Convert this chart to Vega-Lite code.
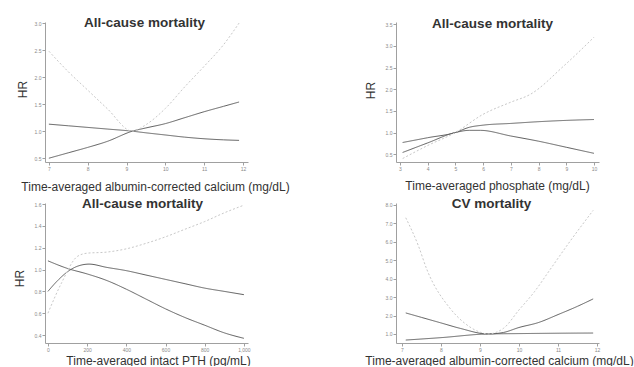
{
  "$schema": "https://vega.github.io/schema/vega-lite/v6.json",
  "background": "white",
  "padding": {"left": 13, "top": 15, "right": 0, "bottom": 0},
  "config": {
    "view": {"stroke": null},
    "font": "Liberation Sans",
    "axis": {
      "grid": false,
      "domainColor": "#a0a0a0",
      "tickColor": "#a0a0a0",
      "labelColor": "#8a8a8a",
      "labelFontSize": 5,
      "labelFont": "Liberation Sans",
      "tickSize": 3,
      "labelPadding": 1,
      "titleFont": "Liberation Sans",
      "titleFontWeight": "normal",
      "titleFontSize": 12,
      "titleColor": "#333333"
    },
    "title": {"font": "Liberation Sans", "fontSize": 13.5, "fontWeight": "bold", "color": "#333333"},
    "line": {"strokeWidth": 1, "interpolate": "monotone"}
  },
  "datasets": {
    "p1": [
      {"s": "A", "x": 7.0, "y": 1.13}, {"s": "A", "x": 7.5, "y": 1.10}, {"s": "A", "x": 8.0, "y": 1.07}, {"s": "A", "x": 8.5, "y": 1.04}, {"s": "A", "x": 9.15, "y": 1.0}, {"s": "A", "x": 9.5, "y": 0.97}, {"s": "A", "x": 10.0, "y": 0.93}, {"s": "A", "x": 10.5, "y": 0.89}, {"s": "A", "x": 11.0, "y": 0.86}, {"s": "A", "x": 11.5, "y": 0.84}, {"s": "A", "x": 11.9, "y": 0.83},
      {"s": "B", "x": 7.0, "y": 0.5}, {"s": "B", "x": 7.5, "y": 0.6}, {"s": "B", "x": 8.0, "y": 0.7}, {"s": "B", "x": 8.5, "y": 0.81}, {"s": "B", "x": 9.15, "y": 1.0}, {"s": "B", "x": 9.5, "y": 1.06}, {"s": "B", "x": 10.0, "y": 1.14}, {"s": "B", "x": 10.5, "y": 1.25}, {"s": "B", "x": 11.0, "y": 1.36}, {"s": "B", "x": 11.5, "y": 1.46}, {"s": "B", "x": 11.9, "y": 1.54},
      {"s": "C", "x": 7.0, "y": 2.48}, {"s": "C", "x": 7.5, "y": 2.1}, {"s": "C", "x": 8.0, "y": 1.76}, {"s": "C", "x": 8.5, "y": 1.42}, {"s": "C", "x": 9.15, "y": 1.0}, {"s": "C", "x": 9.5, "y": 1.12}, {"s": "C", "x": 10.0, "y": 1.42}, {"s": "C", "x": 10.5, "y": 1.82}, {"s": "C", "x": 11.0, "y": 2.2}, {"s": "C", "x": 11.5, "y": 2.6}, {"s": "C", "x": 11.9, "y": 3.0}
    ],
    "p2": [
      {"s": "A", "x": 3.1, "y": 0.77}, {"s": "A", "x": 4.0, "y": 0.88}, {"s": "A", "x": 5.0, "y": 1.0}, {"s": "A", "x": 5.5, "y": 1.12}, {"s": "A", "x": 6.0, "y": 1.17}, {"s": "A", "x": 7.0, "y": 1.21}, {"s": "A", "x": 8.0, "y": 1.25}, {"s": "A", "x": 9.0, "y": 1.28}, {"s": "A", "x": 10.0, "y": 1.30},
      {"s": "B", "x": 3.1, "y": 0.54}, {"s": "B", "x": 4.0, "y": 0.76}, {"s": "B", "x": 5.0, "y": 1.0}, {"s": "B", "x": 5.5, "y": 1.05}, {"s": "B", "x": 5.9, "y": 1.05}, {"s": "B", "x": 7.0, "y": 0.92}, {"s": "B", "x": 8.0, "y": 0.80}, {"s": "B", "x": 9.0, "y": 0.66}, {"s": "B", "x": 10.0, "y": 0.52},
      {"s": "C", "x": 3.1, "y": 0.40}, {"s": "C", "x": 4.0, "y": 0.70}, {"s": "C", "x": 5.0, "y": 1.0}, {"s": "C", "x": 6.0, "y": 1.42}, {"s": "C", "x": 7.0, "y": 1.70}, {"s": "C", "x": 7.7, "y": 1.88}, {"s": "C", "x": 8.9, "y": 2.53}, {"s": "C", "x": 10.0, "y": 3.2}
    ],
    "p3": [
      {"s": "A", "x": 0, "y": 1.08}, {"s": "A", "x": 100, "y": 1.01}, {"s": "A", "x": 200, "y": 0.96}, {"s": "A", "x": 300, "y": 0.90}, {"s": "A", "x": 400, "y": 0.82}, {"s": "A", "x": 500, "y": 0.73}, {"s": "A", "x": 600, "y": 0.64}, {"s": "A", "x": 700, "y": 0.56}, {"s": "A", "x": 800, "y": 0.49}, {"s": "A", "x": 900, "y": 0.42}, {"s": "A", "x": 1000, "y": 0.37},
      {"s": "B", "x": 0, "y": 0.80}, {"s": "B", "x": 50, "y": 0.90}, {"s": "B", "x": 100, "y": 0.98}, {"s": "B", "x": 150, "y": 1.03}, {"s": "B", "x": 210, "y": 1.05}, {"s": "B", "x": 300, "y": 1.02}, {"s": "B", "x": 400, "y": 0.99}, {"s": "B", "x": 500, "y": 0.95}, {"s": "B", "x": 600, "y": 0.91}, {"s": "B", "x": 700, "y": 0.87}, {"s": "B", "x": 800, "y": 0.83}, {"s": "B", "x": 900, "y": 0.80}, {"s": "B", "x": 1000, "y": 0.77},
      {"s": "C", "x": 0, "y": 0.60}, {"s": "C", "x": 70, "y": 0.88}, {"s": "C", "x": 150, "y": 1.12}, {"s": "C", "x": 200, "y": 1.15}, {"s": "C", "x": 300, "y": 1.16}, {"s": "C", "x": 400, "y": 1.19}, {"s": "C", "x": 500, "y": 1.24}, {"s": "C", "x": 600, "y": 1.30}, {"s": "C", "x": 700, "y": 1.37}, {"s": "C", "x": 800, "y": 1.44}, {"s": "C", "x": 900, "y": 1.52}, {"s": "C", "x": 1000, "y": 1.59}
    ],
    "p4": [
      {"s": "A", "x": 7.1, "y": 0.67}, {"s": "A", "x": 8.0, "y": 0.80}, {"s": "A", "x": 9.2, "y": 1.0}, {"s": "A", "x": 10.0, "y": 1.02}, {"s": "A", "x": 11.0, "y": 1.04}, {"s": "A", "x": 11.9, "y": 1.05},
      {"s": "B", "x": 7.1, "y": 2.14}, {"s": "B", "x": 7.5, "y": 1.9}, {"s": "B", "x": 8.0, "y": 1.6}, {"s": "B", "x": 8.5, "y": 1.3}, {"s": "B", "x": 9.2, "y": 1.0}, {"s": "B", "x": 9.6, "y": 1.08}, {"s": "B", "x": 10.0, "y": 1.35}, {"s": "B", "x": 10.5, "y": 1.62}, {"s": "B", "x": 11.0, "y": 2.05}, {"s": "B", "x": 11.5, "y": 2.5}, {"s": "B", "x": 11.9, "y": 2.9},
      {"s": "C", "x": 7.1, "y": 7.3}, {"s": "C", "x": 7.42, "y": 5.8}, {"s": "C", "x": 7.64, "y": 4.5}, {"s": "C", "x": 8.23, "y": 2.4}, {"s": "C", "x": 8.6, "y": 1.6}, {"s": "C", "x": 9.0, "y": 1.1}, {"s": "C", "x": 9.2, "y": 1.0}, {"s": "C", "x": 9.6, "y": 1.3}, {"s": "C", "x": 10.0, "y": 2.3}, {"s": "C", "x": 10.4, "y": 3.3}, {"s": "C", "x": 10.8, "y": 4.5}, {"s": "C", "x": 11.3, "y": 6.0}, {"s": "C", "x": 11.9, "y": 7.7}
    ]
  },
  "bounds": "flush",
  "columns": 2,
  "spacing": {"row": 41, "column": 148},
  "concat": [
    {
      "width": 203, "height": 140,
      "title": {"text": "All-cause mortality", "anchor": "middle", "offset": -8, "dx": -2},
      "data": {"name": "p1"},
      "mark": {"type": "line"},
      "encoding": {
        "x": {"field": "x", "type": "quantitative", "scale": {"domain": [6.9, 12.13], "nice": false, "zero": false},
              "axis": {"values": [7, 8, 9, 10, 11, 12], "title": "Time-averaged  albumin-corrected calcium (mg/dL)", "titleX": 110, "titleY": 24, "titleBaseline": "middle", "titleAnchor": null}},
        "y": {"field": "y", "type": "quantitative", "scale": {"domain": [0.43, 3.02], "nice": false, "zero": false},
              "axis": {"values": [0.5, 1.0, 1.5, 2.0, 2.5, 3.0], "format": ".1f", "title": "HR", "titleFontSize": 12, "titleX": -23, "titleY": 67, "titleAngle": -90, "titleBaseline": "middle", "titleAlign": "center"}},
        "detail": {"field": "s"},
        "color": {"field": "s", "type": "nominal", "legend": null, "scale": {"domain": ["A", "B", "C"], "range": ["#5e5e5e", "#5e5e5e", "#c8c8c8"]}},
        "strokeDash": {"field": "s", "type": "nominal", "legend": null, "scale": {"domain": ["A", "B", "C"], "range": [[1, 0], [1, 0], [2, 2]]}}
      }
    },
    {
      "width": 203, "height": 140,
      "title": {"text": "All-cause mortality", "anchor": "middle", "offset": -8, "dx": -5},
      "data": {"name": "p2"},
      "mark": {"type": "line"},
      "encoding": {
        "x": {"field": "x", "type": "quantitative", "scale": {"domain": [2.86, 10.18], "nice": false, "zero": false},
              "axis": {"values": [3, 4, 5, 6, 7, 8, 9, 10], "title": "Time-averaged  phosphate (mg/dL)", "titleX": 101, "titleY": 23, "titleBaseline": "middle", "titleAnchor": null}},
        "y": {"field": "y", "type": "quantitative", "scale": {"domain": [0.32, 3.55], "nice": false, "zero": false},
              "axis": {"values": [0.5, 1.0, 1.5, 2.0, 2.5, 3.0, 3.5], "format": ".1f", "title": "HR", "titleFontSize": 12, "titleX": -26, "titleY": 68, "titleAngle": -90, "titleBaseline": "middle", "titleAlign": "center"}},
        "detail": {"field": "s"},
        "color": {"field": "s", "type": "nominal", "legend": null, "scale": {"domain": ["A", "B", "C"], "range": ["#8a8a8a", "#5e5e5e", "#bdbdbd"]}},
        "strokeDash": {"field": "s", "type": "nominal", "legend": null, "scale": {"domain": ["A", "B", "C"], "range": [[1, 0], [1, 0], [3, 2]]}}
      }
    },
    {
      "width": 203, "height": 140,
      "title": {"text": "All-cause mortality", "anchor": "middle", "offset": -8, "dx": -4},
      "data": {"name": "p3"},
      "mark": {"type": "line"},
      "encoding": {
        "x": {"field": "x", "type": "quantitative", "scale": {"domain": [-15, 1021], "nice": false, "zero": false},
              "axis": {"values": [0, 200, 400, 600, 800, 1000], "title": "Time-averaged  intact PTH (pg/mL)", "titleX": 113, "titleY": 17, "titleBaseline": "middle", "titleAnchor": null}},
        "y": {"field": "y", "type": "quantitative", "scale": {"domain": [0.327, 1.61], "nice": false, "zero": false},
              "axis": {"values": [0.4, 0.6, 0.8, 1.0, 1.2, 1.4, 1.6], "format": ".1f", "title": "HR", "titleFontSize": 12, "titleX": -26, "titleY": 75, "titleAngle": -90, "titleBaseline": "middle", "titleAlign": "center"}},
        "detail": {"field": "s"},
        "color": {"field": "s", "type": "nominal", "legend": null, "scale": {"domain": ["A", "B", "C"], "range": ["#7a7a7a", "#5a5a5a", "#bdbdbd"]}},
        "strokeDash": {"field": "s", "type": "nominal", "legend": null, "scale": {"domain": ["A", "B", "C"], "range": [[1, 0], [1, 0], [3, 1]]}}
      }
    },
    {
      "width": 203, "height": 140,
      "title": {"text": "CV mortality", "anchor": "middle", "offset": -8, "dx": -6},
      "data": {"name": "p4"},
      "mark": {"type": "line"},
      "encoding": {
        "x": {"field": "x", "type": "quantitative", "scale": {"domain": [6.85, 12.05], "nice": false, "zero": false},
              "axis": {"values": [7, 8, 9, 10, 11, 12], "title": "Time-averaged  albumin-corrected calcium (mg/dL)", "titleX": 103, "titleY": 17, "titleBaseline": "middle", "titleAnchor": null}},
        "y": {"field": "y", "type": "quantitative", "scale": {"domain": [0.51, 8.1], "nice": false, "zero": false},
              "axis": {"values": [1, 2, 3, 4, 5, 6, 7, 8], "format": ".1f", "title": null}},
        "detail": {"field": "s"},
        "color": {"field": "s", "type": "nominal", "legend": null, "scale": {"domain": ["A", "B", "C"], "range": ["#9a9a9a", "#5a5a5a", "#c4c4c4"]}},
        "strokeDash": {"field": "s", "type": "nominal", "legend": null, "scale": {"domain": ["A", "B", "C"], "range": [[1, 0], [1, 0], [2, 2]]}}
      }
    }
  ]
}
